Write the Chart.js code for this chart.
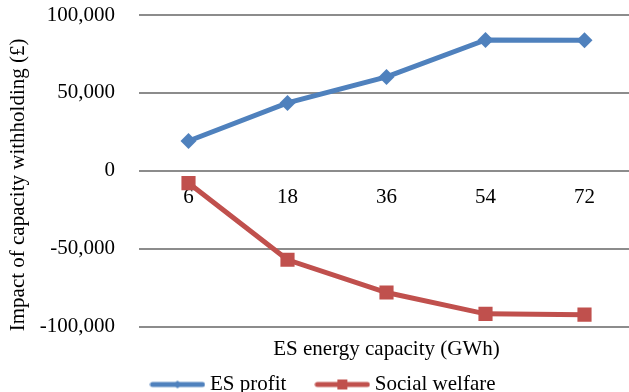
<!DOCTYPE html>
<html>
<head>
<meta charset="utf-8">
<script src="https://cdn.jsdelivr.net/npm/chart.js@4.4.1/dist/chart.umd.min.js"></script>
<style>
  html, body { margin: 0; padding: 0; background: #fff; overflow: hidden; }
</style>
</head>
<body>
<canvas id="myChart" width="634" height="392"></canvas>
<script>
// data
const capacities = ["6", "18", "36", "54", "72"];
const esProfit = [19200, 43600, 60300, 84000, 83800];
const socialWelfare = [-7800, -57000, -78000, -91700, -92200];
const yTicks = [-100000, -50000, 0, 50000, 100000];

const blue = "#4F81BD";
const red = "#C0504D";
const serif = "'Liberation Serif', 'Times New Roman', serif";

// little legend sample: thick line with the marker in the middle
function legendSample(color, kind) {
  const c = document.createElement("canvas");
  c.width = 56;
  c.height = 14;
  const g = c.getContext("2d");
  g.strokeStyle = color;
  g.lineWidth = 5;
  g.lineCap = "round";
  g.beginPath();
  g.moveTo(3, 7);
  g.lineTo(53, 7);
  g.stroke();
  g.fillStyle = color;
  if (kind == "diamond") {
    g.beginPath();
    g.moveTo(28, 3); g.lineTo(32, 7); g.lineTo(28, 11); g.lineTo(24, 7);
    g.closePath();
    g.fill();
  } else {
    g.fillRect(23, 2, 10, 10);
  }
  return c;
}
const samples = [legendSample(blue, "diamond"), legendSample(red, "square")];

// y axis title drawn by hand so it sits where the original one does
const yTitle = {
  id: "yTitle",
  afterDraw(chart) {
    const ctx = chart.ctx;
    const area = chart.chartArea;
    ctx.save();
    ctx.translate(18, (area.top + area.bottom) / 2 + 14);
    ctx.rotate(-Math.PI / 2);
    ctx.font = "21px " + serif;
    ctx.fillStyle = "#000";
    ctx.textAlign = "center";
    ctx.textBaseline = "middle";
    ctx.fillText("Impact of capacity withholding (£)", 0, 0);
    ctx.restore();
  },
};

const myChart = new Chart(document.getElementById("myChart"), {
  type: "line",
  data: {
    labels: capacities,
    datasets: [
      {
        label: "ES profit",
        data: esProfit,
        borderColor: blue,
        backgroundColor: blue,
        borderWidth: 5,
        pointStyle: "rectRot",
        pointRadius: 8,
        pointHoverRadius: 8,
        pointBorderWidth: 0,
        tension: 0,
      },
      {
        label: "Social welfare",
        data: socialWelfare,
        borderColor: red,
        backgroundColor: red,
        borderWidth: 5,
        pointStyle: "rect",
        pointRadius: 10,
        pointHoverRadius: 10,
        pointBorderWidth: 0,
        tension: 0,
      },
    ],
  },
  options: {
    responsive: false,
    animation: false,
    layout: {
      autoPadding: false,
      padding: { left: 17, top: 15, right: 0, bottom: -13 },
    },
    scales: {
      x: {
        position: { y: 0 },
        offset: true,
        afterFit: (axis) => {
          axis.paddingLeft = 0;
          axis.paddingRight = 0;
        },
        grid: { display: false },
        border: { display: false },
        ticks: {
          color: "#000",
          font: { family: serif, size: 21 },
          padding: 6,
        },
      },
      y: {
        min: -100000,
        max: 100000,
        afterBuildTicks: (axis) => {
          axis.ticks = yTicks.map((v) => ({ value: v }));
        },
        afterFit: (axis) => {
          axis.width = 122;
        },
        // invisible tick marks keep the labels away from the plot
        grid: { color: "#8c8c8c", lineWidth: 2, tickLength: 24, tickColor: "rgba(0,0,0,0)" },
        border: { display: false },
        ticks: {
          color: "#000",
          font: { family: serif, size: 21 },
          padding: 0,
          callback: (v) => v.toLocaleString("en-US"),
        },
      },
    },
    plugins: {
      tooltip: { enabled: false },
      title: {
        display: true,
        text: "ES energy capacity (GWh)",
        position: "bottom",
        fullSize: false,
        weight: 500,
        color: "#000",
        font: { family: serif, size: 21, weight: "normal" },
        padding: { top: 10, bottom: -22 },
      },
      legend: {
        position: "bottom",
        labels: {
          color: "#000",
          font: { family: serif, size: 21 },
          usePointStyle: true,
          pointStyleWidth: 44,
          padding: 34,
          generateLabels(chart) {
            const items = Chart.defaults.plugins.legend.labels.generateLabels(chart);
            items.forEach((it, i) => { it.pointStyle = samples[i]; });
            return items;
          },
        },
      },
    },
  },
  plugins: [yTitle],
});
</script>
</body>
</html>
